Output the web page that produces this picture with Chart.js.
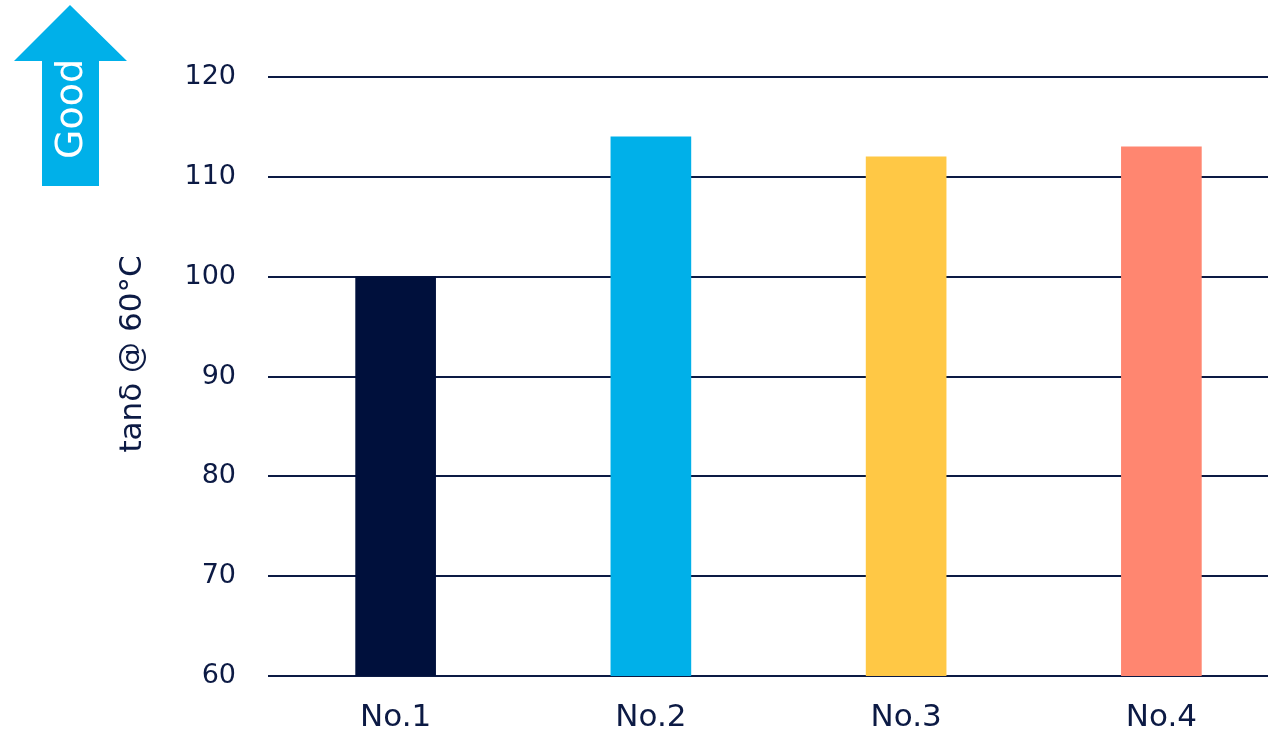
<!DOCTYPE html>
<html>
<head>
<meta charset="utf-8">
<script src="https://cdn.jsdelivr.net/npm/chart.js@4"></script>
<style>
    html, body { margin: 0; padding: 0; background: #fff; overflow: hidden; }
    #wrap { width: 1268px; height: 729px; overflow: hidden; position: relative; }
    #box { width: 1289px; height: 729px; position: absolute; left: 0; top: 0; }
</style>
</head>
<body>
<div id="wrap"><div id="box"><canvas id="barChart"></canvas></div></div>
<script>
// data
const categories = ['No.1', 'No.2', 'No.3', 'No.4'];
const values = [100, 114, 112, 113];
const barColors = ['#00103c', '#00b0e9', '#ffc845', '#ff8670'];
const yTicks = [60, 70, 80, 90, 100, 110, 120];
const yTitle = 'tanδ @ 60°C';
const arrowText = 'Good';

const navy = '#0c1a44';
const fontFamily = '"DejaVu Sans", "Noto Sans", sans-serif';

// "Good" arrow in the top-left corner + the rotated y title
const decorations = {
    id: 'decorations',
    afterDraw(chart) {
        const ctx = chart.ctx;
        ctx.save();
        ctx.fillStyle = '#00b0e9';
        ctx.beginPath();
        ctx.moveTo(70, 5);
        ctx.lineTo(127, 61);
        ctx.lineTo(99, 61);
        ctx.lineTo(99, 186);
        ctx.lineTo(42, 186);
        ctx.lineTo(42, 61);
        ctx.lineTo(14, 61);
        ctx.closePath();
        ctx.fill();

        ctx.textAlign = 'center';
        ctx.textBaseline = 'middle';

        ctx.save();
        ctx.translate(72, 109);
        ctx.rotate(-Math.PI / 2);
        ctx.fillStyle = '#ffffff';
        ctx.font = '38px ' + fontFamily;
        ctx.fillText(arrowText, 0, 0);
        ctx.restore();

        ctx.save();
        ctx.translate(133, 354);
        ctx.rotate(-Math.PI / 2);
        ctx.fillStyle = navy;
        ctx.font = '31px ' + fontFamily;
        ctx.fillText(yTitle, 0, 0);
        ctx.restore();

        ctx.restore();
    }
};

new Chart(document.getElementById('barChart'), {
    type: 'bar',
    data: {
        labels: categories,
        datasets: [{
            data: values,
            backgroundColor: barColors,
            barThickness: 80,
            borderWidth: 0
        }]
    },
    options: {
        responsive: true,
        maintainAspectRatio: false,
        animation: false,
        layout: { padding: { top: 77, right: 0, bottom: 0, left: 0 } },
        plugins: { legend: { display: false }, tooltip: { enabled: false } },
        scales: {
            x: {
                afterFit: s => { s.height = 53; },
                grid: { display: false, drawTicks: false },
                border: { display: false },
                ticks: {
                    color: navy,
                    font: { family: fontFamily, size: 31 },
                    padding: 23
                }
            },
            y: {
                min: 60,
                max: 120,
                afterBuildTicks: s => { s.ticks = yTicks.map(v => ({ value: v })); },
                afterFit: s => { s.width = 268; },
                grid: { color: navy, lineWidth: 2, drawTicks: false },
                border: { display: false },
                ticks: {
                    color: navy,
                    font: { family: fontFamily, size: 27 },
                    padding: 32
                }
            }
        }
    },
    plugins: [decorations]
});
</script>
</body>
</html>
